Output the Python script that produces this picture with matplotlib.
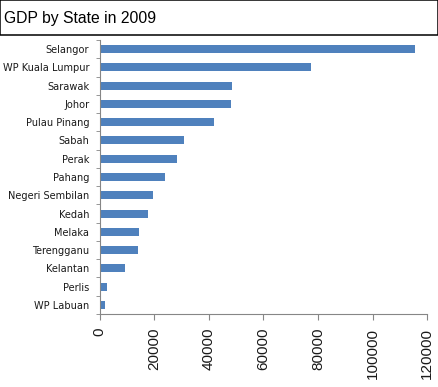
import matplotlib
matplotlib.use("Agg")
import matplotlib.pyplot as plt
from matplotlib.patches import Rectangle
from matplotlib import font_manager
import numpy as np

states = ["Selangor", "WP Kuala Lumpur", "Sarawak", "Johor", "Pulau Pinang", "Sabah",
          "Perak", "Pahang", "Negeri Sembilan", "Kedah", "Melaka", "Terengganu",
          "Kelantan", "Perlis", "WP Labuan"]
gdp = [115500, 77400, 48500, 48100, 41800, 30800, 28200, 23900, 19500, 17700,
       14400, 14000, 9400, 2700, 1900]
xticks = [0, 20000, 40000, 60000, 80000, 100000, 120000]

cond = None
for f in font_manager.fontManager.ttflist:
    if f.name == "DejaVu Sans" and "Condensed" in f.fname and "Bold" not in f.fname and "Oblique" not in f.fname:
        cond = f.fname
        break
ylab_font = font_manager.FontProperties(fname=cond, size=7.8) if cond else \
    font_manager.FontProperties(family="DejaVu Sans", size=7)

fig = plt.figure(figsize=(4.39, 3.87), dpi=100)
ax = fig.add_axes([0.227, 0.1886, 0.746, 0.708])

n = len(states)
ypos = np.arange(n)[::-1]
ax.barh(ypos, gdp, height=0.44, color="#4f81bd", zorder=2)
ax.set_ylim(-0.5, n - 0.5)
ax.set_xlim(0, 120000)

ax.set_yticks(ypos)
ax.set_yticklabels(states, color="#1a1a1a")
for lab in ax.get_yticklabels():
    lab.set_fontproperties(ylab_font)
ax.set_yticks(np.arange(-0.5, n, 1.0), minor=True)
ax.tick_params(axis="y", which="major", length=0, pad=7.5)
ax.tick_params(axis="y", which="minor", length=3, color="#868686", direction="out")

ax.set_xticks(xticks)
ax.set_xticklabels([str(v) for v in xticks], rotation=90, family=["Liberation Sans", "DejaVu Sans"],
                   fontsize=11, color="#1a1a1a", va="top")
ax.tick_params(axis="x", which="major", length=4, color="#868686", direction="out", pad=6)

for s in ["top", "right"]:
    ax.spines[s].set_visible(False)
for s in ["left", "bottom"]:
    ax.spines[s].set_color("#868686")
    ax.spines[s].set_linewidth(0.8)

fig.patches.append(Rectangle((0.001, 0.9103), 0.996, 0.0885, transform=fig.transFigure,
                             fill=False, edgecolor="black", linewidth=1.1))
fig.text(4 / 439, 1 - 19 / 387, "GDP by State in 2009", family=["Liberation Sans", "DejaVu Sans"],
         fontsize=11.3, va="center", ha="left", color="black")

fig.savefig("out.png", dpi=100)
